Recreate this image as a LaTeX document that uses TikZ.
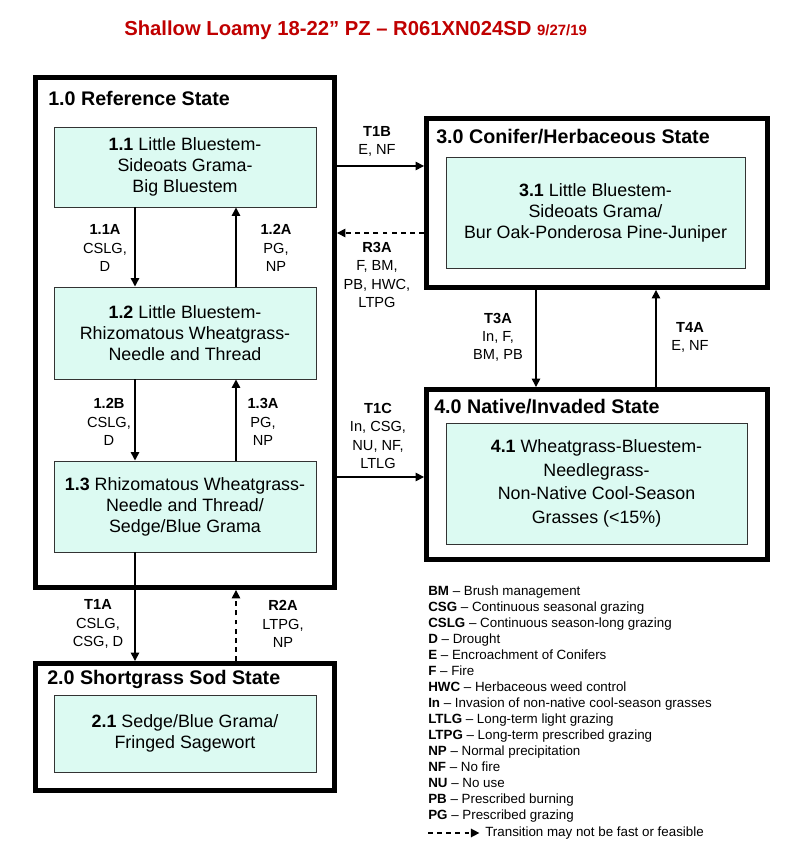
\documentclass[tikz,border=0pt]{standalone}
\usepackage{fontspec}
\setmainfont{Liberation Sans}
\usetikzlibrary{arrows.meta, positioning, calc}
\definecolor{titlered}{HTML}{C00000}
\definecolor{phasefill}{HTML}{DCFAF2}
\definecolor{phaseline}{HTML}{333333}

\begin{document}
\begin{tikzpicture}[
  >={Triangle[length=6pt, width=6pt]},
  statebox/.style={draw=black, line width=3.5pt, minimum width=7.475cm, inner sep=0pt},
  phasebox/.style={draw=phaseline, fill=phasefill, line width=0.7pt, align=center, minimum width=6.55cm, inner sep=0pt, font=\fontsize{12.7}{14.9}\selectfont},
  statetitle/.style={anchor=west, inner sep=0pt, font=\fontsize{14}{16}\selectfont\bfseries},
  trlabel/.style={align=center, inner sep=0pt, font=\fontsize{10.4}{12.9}\selectfont},
  trarrow/.style={line width=1.1pt, ->},
  trdashed/.style={trarrow, dash pattern=on 3.5pt off 3pt},
]

% Page frame
\useasboundingbox (0,0) rectangle (20,21.125);

% Title
\node[font=\fontsize{14.4}{17}\selectfont\bfseries, text=titlered] (title) at (8.89,20.375) {Shallow Loamy 18-22” PZ – R061XN024SD {\fontsize{10.6}{12}\selectfont 9/27/19}};

% 1.0 Reference state
\node[statebox, minimum height=12.75cm] (ref) at (4.625,12.8125) {};
\node[statetitle] (reft) at (1.2,18.675) {1.0 Reference State};
\node[phasebox, minimum height=2.0cm] (p11) at (4.625,16.95) {\textbf{1.1} Little Bluestem-\\Sideoats Grama-\\Big Bluestem};
\node[phasebox, minimum height=2.3cm] (p12) at (4.625,12.8) {\textbf{1.2} Little Bluestem-\\Rhizomatous Wheatgrass-\\Needle and Thread};
\node[phasebox, minimum height=2.275cm] (p13) at (4.625,8.4625) {\textbf{1.3} Rhizomatous Wheatgrass-\\Needle and Thread/\\Sedge/Blue Grama};

% 2.0 Shortgrass sod state
\node[statebox, minimum height=3.175cm] (sod) at (4.625,2.95) {};
\node[statetitle] (sodt) at (1.175,4.15) {2.0 Shortgrass Sod State};
\node[phasebox, minimum height=1.925cm] (p21) at (4.625,2.7875) {\textbf{2.1} Sedge/Blue Grama/\\Fringed Sagewort};

% 3.0 Conifer/herbaceous state
\node[statebox, minimum width=8.525cm, minimum height=4.225cm] (con) at (14.925,16.05) {};
\node[statetitle] (cont) at (10.9,17.7) {3.0 Conifer/Herbaceous State};
\node[phasebox, minimum width=7.475cm, minimum height=2.775cm] (p31) at (14.8875,15.8125) {\textbf{3.1} Little Bluestem-\\Sideoats Grama/\\Bur Oak-Ponderosa Pine-Juniper};

% 4.0 Native/invaded state
\node[statebox, minimum width=8.525cm, minimum height=4.25cm] (nat) at (14.925,9.2625) {};
\node[statetitle] (natt) at (10.85,10.95) {4.0 Native/Invaded State};
\node[phasebox, minimum width=7.525cm, minimum height=3.025cm] (p41) at (14.9125,9.0375) {\textbf{4.1} Wheatgrass-Bluestem-\\[2pt]Needlegrass-\\[2pt]Non-Native Cool-Season\\[2pt]Grasses (<15\%)};

% Arrow columns and rows
\coordinate (xl) at (3.375,0);
\coordinate (xr) at (5.9,0);
\coordinate (xd) at (13.4,0);
\coordinate (xu) at (16.4,0);
\coordinate (yb) at (0,16.975);
\coordinate (yr) at (0,15.3);
\coordinate (yc) at (0,9.2);

% Pathways within the reference state
\draw[trarrow] (p11.south -| xl) -- (p12.north -| xl);
\draw[trarrow] (p12.north -| xr) -- (p11.south -| xr);
\draw[trarrow] (p12.south -| xl) -- (p13.north -| xl);
\draw[trarrow] (p13.north -| xr) -- (p12.south -| xr);

% Transitions and restorations
\draw[trarrow] (p13.south -| xl) -- (sod.north -| xl);
\draw[trdashed] (sod.north -| xr) -- (ref.south -| xr);
\draw[trarrow] (ref.east |- yb) -- (con.west |- yb);
\draw[trdashed] (con.west |- yr) -- (ref.east |- yr);
\draw[trarrow] (ref.east |- yc) -- (nat.west |- yc);
\draw[trarrow] (con.south -| xd) -- (nat.north -| xd);
\draw[trarrow] (nat.north -| xu) -- (con.south -| xu);

% Labels
\node[trlabel] (l11a) at (2.625,14.925) {\textbf{1.1A}\\CSLG,\\D};
\node[trlabel] (l12a) at (6.9,14.925) {\textbf{1.2A}\\PG,\\NP};
\node[trlabel] (l12b) at (2.725,10.575) {\textbf{1.2B}\\CSLG,\\D};
\node[trlabel] (l13a) at (6.575,10.575) {\textbf{1.3A}\\PG,\\NP};
\node[trlabel] (lt1b) at (9.425,17.6) {\textbf{T1B}\\E, NF};
\node[trlabel] (lr3a) at (9.425,14.25) {\textbf{R3A}\\F, BM,\\PB, HWC,\\LTPG};
\node[trlabel] (lt1c) at (9.45,10.225) {\textbf{T1C}\\In, CSG,\\NU, NF,\\LTLG};
\node[trlabel] (lt3a) at (12.45,12.7) {\textbf{T3A}\\In, F,\\BM, PB};
\node[trlabel] (lt4a) at (17.25,12.69) {\textbf{T4A}\\E, NF};
\node[trlabel] (lt1a) at (2.45,5.525) {\textbf{T1A}\\CSLG,\\CSG, D};
\node[trlabel] (lr2a) at (7.075,5.525) {\textbf{R2A}\\LTPG,\\NP};

% Legend
\node[anchor=north west, align=left, inner sep=0pt, font=\fontsize{9.5}{11.34}\selectfont] (legend) at (10.7,6.475) {%
  \textbf{BM} – Brush management\\
  \textbf{CSG} – Continuous seasonal grazing\\
  \textbf{CSLG} – Continuous season-long grazing\\
  \textbf{D} – Drought\\
  \textbf{E} – Encroachment of Conifers\\
  \textbf{F} – Fire\\
  \textbf{HWC} – Herbaceous weed control\\
  \textbf{In} – Invasion of non-native cool-season grasses\\
  \textbf{LTLG} – Long-term light grazing\\
  \textbf{LTPG} – Long-term prescribed grazing\\
  \textbf{NP} – Normal precipitation\\
  \textbf{NF} – No fire\\
  \textbf{NU} – No use\\
  \textbf{PB} – Prescribed burning\\
  \textbf{PG} – Prescribed grazing};
\coordinate (legarr) at (10.7,0.3);
\node[anchor=west, inner sep=0pt, font=\fontsize{9.5}{11.34}\selectfont] (legtrans) at (12.125,0.3) {Transition may not be fast or feasible};
\draw[trdashed, shorten >=4pt] (legarr) -- (legtrans.west);

\end{tikzpicture}
\end{document}
